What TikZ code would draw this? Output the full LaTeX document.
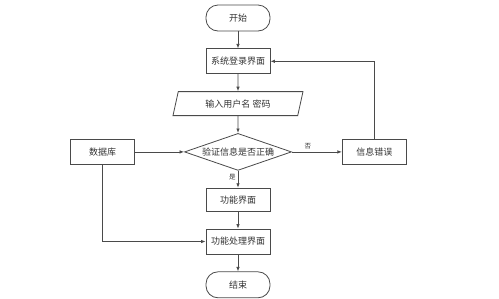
\documentclass[tikz,border=0pt]{standalone}
\usepackage{fontspec}
\usepackage{xcolor}
\usepackage{tikz}
\usetikzlibrary{arrows.meta,positioning,shapes.geometric}
\newfontfamily\cjk{Noto Sans CJK SC}
\definecolor{fcLine}{HTML}{4A4A4A}
\definecolor{fcText}{HTML}{333333}
\tikzset{
  flow box/.style={draw=fcLine,line width=0.8pt,fill=white,text=fcText,
    minimum width=64pt,minimum height=25pt,inner sep=2pt,font=\cjk\fontsize{9}{11}\selectfont},
  terminal/.style={flow box,rounded corners=12pt,minimum height=26pt},
  io box/.style={flow box,trapezium,trapezium left angle=67,trapezium right angle=113,
    trapezium stretches body,minimum width=130pt,minimum height=24pt},
  decision box/.style={flow box,diamond,aspect=2.9,inner sep=0pt,minimum width=107pt,minimum height=37pt},
  flow label/.style={text=fcText,font=\cjk\fontsize{6.5}{7}\selectfont,inner sep=2pt},
  flow arrow/.style={-{Latex[length=4.5pt,width=3.5pt]},line width=0.8pt,draw=fcLine}
}
\begin{document}
\begin{tikzpicture}[x=1pt,y=-1pt,node distance=17pt]
\useasboundingbox[fill=white] (0,0) rectangle (499,298);
\node[terminal] (start) at (238,18) {开始};
\node[flow box,below=of start] (login) {系统登录界面};
\node[io box,below=of login] (input) {输入用户名 密码};
\node[decision box,below=of input] (check) {验证信息是否正确};
\node[flow box,left=49pt of check] (db) {数据库};
\node[flow box,right=50pt of check] (err) {信息错误};
\node[flow box,below=of check,minimum height=23pt] (func) {功能界面};
\node[flow box,below=of func] (proc) {功能处理界面};
\node[terminal,below=of proc] (stop) {结束};
\draw[flow arrow] (start) -- (login);
\draw[flow arrow] (login) -- (input);
\draw[flow arrow] (input) -- (check);
\draw[flow arrow] (check) -- node[flow label,above,pos=0.32] {否} (err);
\draw[flow arrow] (check) -- node[flow label,left,pos=0.35] {是} (func);
\draw[flow arrow] (func) -- (proc);
\draw[flow arrow] (proc) -- (stop);
\draw[flow arrow] (db) -- (check);
\draw[flow arrow] (db) |- (proc);
\draw[flow arrow] (err) |- (login);
\end{tikzpicture}
\end{document}
